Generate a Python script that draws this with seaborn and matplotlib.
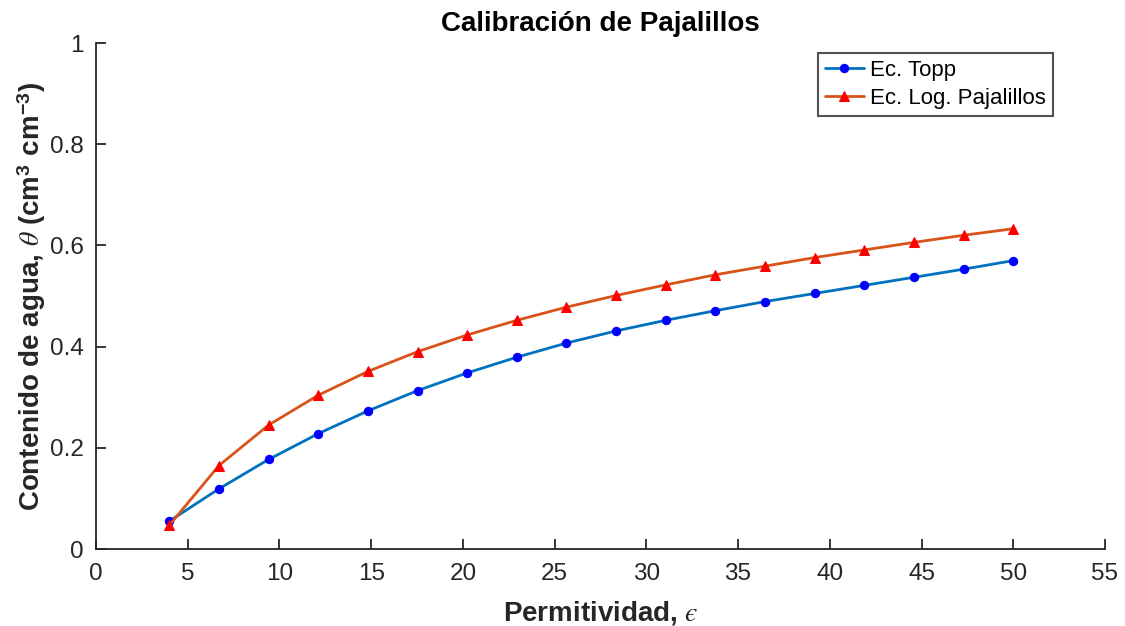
import matplotlib
matplotlib.use("Agg")
import matplotlib.pyplot as plt
import seaborn as sns
import pandas as pd

# Data
permitividad = [4.0, 6.706, 9.412, 12.118, 14.824, 17.529, 20.235, 22.941, 25.647,
                28.353, 31.059, 33.765, 36.471, 39.176, 41.882, 44.588, 47.294, 50.0]
topp = [0.055, 0.119, 0.177, 0.228, 0.273, 0.313, 0.348, 0.379, 0.407,
        0.431, 0.452, 0.471, 0.489, 0.505, 0.521, 0.537, 0.553, 0.570]
log_pajalillos = [0.047, 0.165, 0.245, 0.304, 0.351, 0.390, 0.423, 0.452, 0.478,
                  0.501, 0.522, 0.542, 0.559, 0.576, 0.591, 0.606, 0.620, 0.633]
series_names = ["Ec. Topp", "Ec. Log. Pajalillos"]
x_ticks = list(range(0, 56, 5))
y_ticks = [0, 0.2, 0.4, 0.6, 0.8, 1]
y_tick_labels = ["0", "0.2", "0.4", "0.6", "0.8", "1"]

sns.set_theme(style="white")
plt.rcParams["font.family"] = ["Liberation Sans", "DejaVu Sans"]
plt.rcParams["mathtext.fontset"] = "custom"
plt.rcParams["mathtext.rm"] = "Liberation Sans:bold"
plt.rcParams["mathtext.bf"] = "Liberation Sans:bold"
plt.rcParams["mathtext.it"] = "STIXGeneral:italic"
plt.rcParams["xtick.direction"] = "in"
plt.rcParams["ytick.direction"] = "in"

df = pd.DataFrame({"eps": permitividad, "topp": topp, "log": log_pajalillos})

fig = plt.figure(figsize=(11.25, 6.26), dpi=100)
ax = fig.add_axes([0.0853, 0.123, 0.8969, 0.8083])

sns.lineplot(data=df, x="eps", y="topp", ax=ax, color="#0072BD", linewidth=2.0,
             marker="o", markersize=6, markerfacecolor="#0000FF",
             markeredgecolor="#0000FF", label=series_names[0])
sns.lineplot(data=df, x="eps", y="log", ax=ax, color="#D95319", linewidth=2.0,
             marker="^", markersize=7, markerfacecolor="#FF0000",
             markeredgecolor="#FF0000", label=series_names[1])

ax.set_xlim(0, 55)
ax.set_ylim(0, 1)
ax.set_xticks(x_ticks)
ax.set_xticklabels([str(t) for t in x_ticks])
ax.set_yticks(y_ticks)
ax.set_yticklabels(y_tick_labels)

for side in ["top", "right"]:
    ax.spines[side].set_visible(False)
for side in ["left", "bottom"]:
    ax.spines[side].set_color("#262626")
    ax.spines[side].set_linewidth(1.3)

ax.tick_params(axis="both", direction="in", length=7, width=1.3, color="#262626",
               labelsize=17.5, labelcolor="#262626", bottom=True, left=True)
ax.tick_params(axis="x", pad=10)
ax.tick_params(axis="y", pad=9)

ax.set_title("Calibración de Pajalillos", fontsize=20, fontweight="bold", pad=9,
             color="black")
ax.set_xlabel("Permitividad, $\u03f5$", fontsize=20, fontweight="bold", labelpad=10,
              color="#262626")
ax.set_ylabel(r"Contenido de agua, $\theta$ (cm$^3$ cm$^{-3}$)", fontsize=20,
              fontweight="bold", labelpad=1, color="#262626")

leg = ax.legend(loc="upper right", bbox_to_anchor=(0.9485, 0.98), fontsize=16,
                frameon=True, fancybox=False, edgecolor="#262626",
                handlelength=1.75, borderpad=0.3, labelspacing=0.32,
                handletextpad=0.3, borderaxespad=0)
leg.get_frame().set_linewidth(1.5)
for t in leg.get_texts():
    t.set_color("black")

fig.savefig("out.png", dpi=100)
